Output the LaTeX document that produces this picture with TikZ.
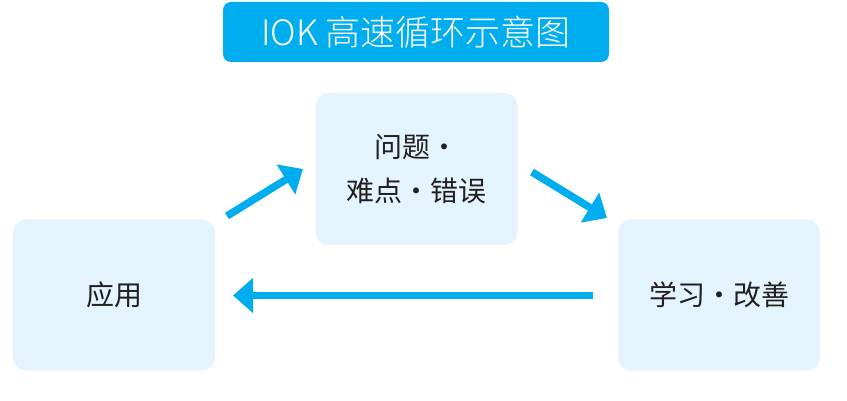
\documentclass[tikz,border=0pt]{standalone}
\usepackage{fontspec}
\setmainfont{Noto Sans CJK SC}
\newfontfamily\titlefont{Noto Sans CJK SC Light}
\usetikzlibrary{arrows.meta}
\definecolor{cyanA}{HTML}{00AEEF}
\definecolor{boxbg}{HTML}{E3F4FC}
\definecolor{ink}{HTML}{231F20}
\tikzset{
  titlebox/.style={fill=cyanA, rounded corners=8pt, minimum width=386pt, minimum height=60pt,
    inner sep=0pt, text=white, font=\titlefont\fontsize{35}{38}\selectfont},
  stagebox/.style={fill=boxbg, rounded corners=13pt, minimum width=202pt, minimum height=151pt,
    inner sep=0pt, text=ink, align=center, font=\fontsize{28}{44}\selectfont},
  flow/.style={draw=cyanA, line width=7.5pt, -{Triangle[length=20pt,width=34pt]}}
}
\begin{document}
\begin{tikzpicture}[x=1pt,y=-1pt]
\useasboundingbox (0,0) rectangle (847,401);
\node[titlebox] (title) at (416,32) {IOK 高速循环示意图};
\node[stagebox, minimum height=152pt] (mid) at (416.5,169) {问题・\\难点・错误};
\node[stagebox] (left) at (114,295) {应用};
\node[stagebox] (right) at (719,295) {学习・改善};
\coordinate (a1s) at (227,216);
\coordinate (a1e) at (303,169);
\coordinate (a2s) at (532,172);
\coordinate (a2e) at (607,218);
\coordinate (a3s) at (593,295.5);
\coordinate (a3e) at (233,295.5);
\draw[flow] (a1s) -- (a1e);
\draw[flow] (a2s) -- (a2e);
\draw[flow] (a3s) -- (a3e);
\end{tikzpicture}
\end{document}
